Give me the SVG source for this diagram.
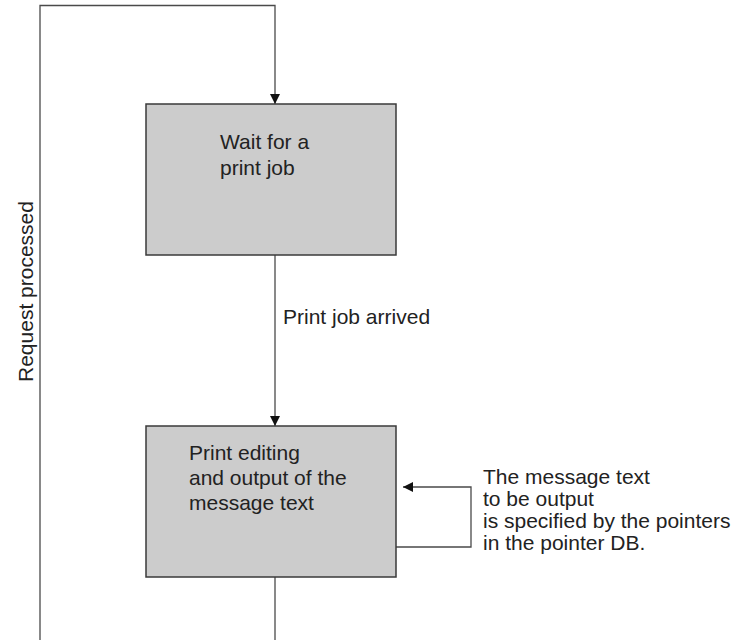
<svg xmlns="http://www.w3.org/2000/svg" width="733" height="640" viewBox="0 0 733 640">
<style>
.box{fill:#cccccc;stroke:#3a3a3a;stroke-width:1.5}
.ln{fill:none;stroke:#4a4a4a;stroke-width:1.3}
.t{font-family:"Liberation Sans",Arial,sans-serif;font-size:21px;fill:#222}
</style>
<defs>
<marker id="ah" viewBox="0 0 10 10" refX="10" refY="5" markerWidth="10" markerHeight="10" markerUnits="userSpaceOnUse" orient="auto">
<path d="M0,0 L10,5 L0,10 Z" fill="#111"/>
</marker>
</defs>
<rect width="733" height="640" fill="#fff"/>
<g id="connectors">
<path class="ln" d="M40,640 V5.5 H275 V104" marker-end="url(#ah)"/>
<path class="ln" d="M275,255 V426" marker-end="url(#ah)"/>
<path class="ln" d="M275,577 V640"/>
<path class="ln" d="M396,547 H471 V487 H403" marker-end="url(#ah)"/>
<text class="t" x="283" y="324">Print job arrived</text>
<text class="t" transform="translate(33,382) rotate(-90)">Request processed</text>
</g>
<g id="wait">
<rect class="box" x="146" y="104" width="250" height="151"/>
<text class="t" x="220" y="149">Wait for a</text>
<text class="t" x="220" y="175">print job</text>
</g>
<g id="print">
<rect class="box" x="146" y="426" width="250" height="151"/>
<text class="t" x="189" y="460">Print editing</text>
<text class="t" x="189" y="485">and output of the</text>
<text class="t" x="189" y="510">message text</text>
</g>
<g id="note">
<text class="t" x="483" y="484">The message text</text>
<text class="t" x="483" y="506">to be output</text>
<text class="t" x="483" y="528">is specified by the pointers</text>
<text class="t" x="483" y="550">in the pointer DB.</text>
</g>
</svg>
